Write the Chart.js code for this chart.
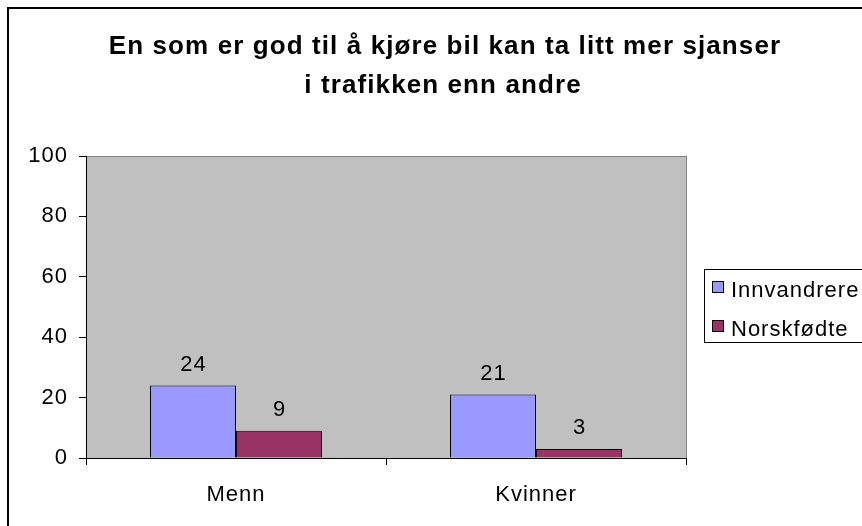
<!DOCTYPE html>
<html>
<head>
<meta charset="utf-8">
<script src="https://cdn.jsdelivr.net/npm/chart.js@4/dist/chart.umd.min.js"></script>
<style>
  html, body { margin: 0; padding: 0; background: #fff; }
  #wrap { width: 862px; height: 526px; }
</style>
</head>
<body>
<div id="wrap"><canvas id="chartSjanser" width="862" height="526"></canvas></div>
<script>
// données
var categories = ['Menn', 'Kvinner'];
var innvandrere = [24, 21];
var norskfodte = [9, 3];
var yTicks = [0, 20, 40, 60, 80, 100];
var titleLines = ['En som er god til å kjøre bil kan ta litt mer sjanser', 'i trafikken enn andre'];

var FONT = "'Liberation Sans', Arial, sans-serif";

function spacing(ctx, px) {
  if ('letterSpacing' in ctx) ctx.letterSpacing = px + 'px';
}

// fond gris de la zone de tracé + cadre extérieur
const plotBg = {
  id: 'plotBg',
  beforeDraw: function (chart) {
    var ctx = chart.ctx, a = chart.chartArea;
    ctx.fillStyle = '#fff';
    ctx.fillRect(0, 0, chart.width, chart.height);
    ctx.strokeStyle = '#000';
    ctx.lineWidth = 2;
    ctx.strokeRect(8, 8, chart.width + 20, chart.height + 20);
    ctx.fillStyle = '#C0C0C0';
    ctx.fillRect(a.left, a.top, a.right - a.left, a.bottom - a.top);
    ctx.strokeStyle = '#808080';
    ctx.lineWidth = 1;
    ctx.strokeRect(a.left + 0.5, a.top + 0.5, a.right - a.left, a.bottom - a.top);
    // espacement des lettres pour les libellés des axes (rendu type Excel)
    spacing(ctx, 1);
  }
};

// titre, étiquettes de valeurs et légende
const extras = {
  id: 'extras',
  afterDatasetsDraw: function (chart) {
    var ctx = chart.ctx;
    ctx.save();
    spacing(ctx, 1);
    ctx.fillStyle = '#000';
    ctx.font = '22px ' + FONT;
    ctx.textAlign = 'center';
    ctx.textBaseline = 'alphabetic';
    chart.data.datasets.forEach(function (ds, i) {
      chart.getDatasetMeta(i).data.forEach(function (bar, j) {
        ctx.fillText(String(ds.data[j]), bar.x + 0.5, bar.y - 15);
      });
    });
    ctx.restore();
  },
  afterDraw: function (chart) {
    var ctx = chart.ctx;
    ctx.save();
    // titre
    ctx.fillStyle = '#000';
    ctx.font = 'bold 26px ' + FONT;
    ctx.textAlign = 'center';
    ctx.textBaseline = 'alphabetic';
    spacing(ctx, 1.1);
    ctx.fillText(titleLines[0], 445, 54);
    ctx.fillText(titleLines[1], 443, 93);
    // légende
    spacing(ctx, 1);
    ctx.strokeStyle = '#000';
    ctx.lineWidth = 1;
    ctx.fillStyle = '#fff';
    ctx.fillRect(704.5, 269.5, 200, 73);
    ctx.strokeRect(704.5, 269.5, 200, 73);
    ctx.font = '22px ' + FONT;
    ctx.textAlign = 'left';
    chart.data.datasets.forEach(function (ds, i) {
      var y = 281 + i * 39;
      ctx.fillStyle = ds.backgroundColor;
      ctx.fillRect(712.5, y + 0.5, 11, 11);
      ctx.strokeRect(712.5, y + 0.5, 11, 11);
      ctx.fillStyle = '#000';
      ctx.fillText(ds.label, 731, y + 16);
    });
    ctx.restore();
    spacing(ctx, 0);
  }
};

const ctxSjanser = document.getElementById('chartSjanser').getContext('2d');

const chartSjanser = new Chart(ctxSjanser, {
  type: 'bar',
  data: {
    labels: categories,
    datasets: [
      {
        label: 'Innvandrere',
        data: innvandrere,
        backgroundColor: '#9999FF',
        borderColor: '#000',
        borderWidth: 1,
        categoryPercentage: 0.5733,
        barPercentage: 1
      },
      {
        label: 'Norskfødte',
        data: norskfodte,
        backgroundColor: '#993366',
        borderColor: '#000',
        borderWidth: 1,
        categoryPercentage: 0.5733,
        barPercentage: 1
      }
    ]
  },
  options: {
    responsive: false,
    animation: false,
    devicePixelRatio: 1,
    layout: { padding: { left: 0, top: 156, right: 176, bottom: 0 } },
    plugins: {
      legend: { display: false },
      title: { display: false },
      tooltip: { enabled: false }
    },
    scales: {
      x: {
        afterFit: function (scale) { scale.height = 68; },
        grid: { display: true, drawOnChartArea: false, offset: true, tickLength: 7, color: '#000' },
        border: { display: true, color: '#000', width: 1 },
        ticks: { color: '#000', font: { family: FONT, size: 22 }, padding: 17, maxRotation: 0 }
      },
      y: {
        min: 0,
        max: 100,
        afterFit: function (scale) { scale.width = 86; },
        afterBuildTicks: function (scale) {
          scale.ticks = yTicks.map(function (v) { return { value: v }; });
        },
        grid: { display: true, drawOnChartArea: false, tickLength: 7, color: '#000' },
        border: { display: true, color: '#000', width: 1 },
        ticks: { color: '#000', font: { family: FONT, size: 22 }, padding: 11 }
      }
    }
  },
  plugins: [plotBg, extras]
});
</script>
</body>
</html>
